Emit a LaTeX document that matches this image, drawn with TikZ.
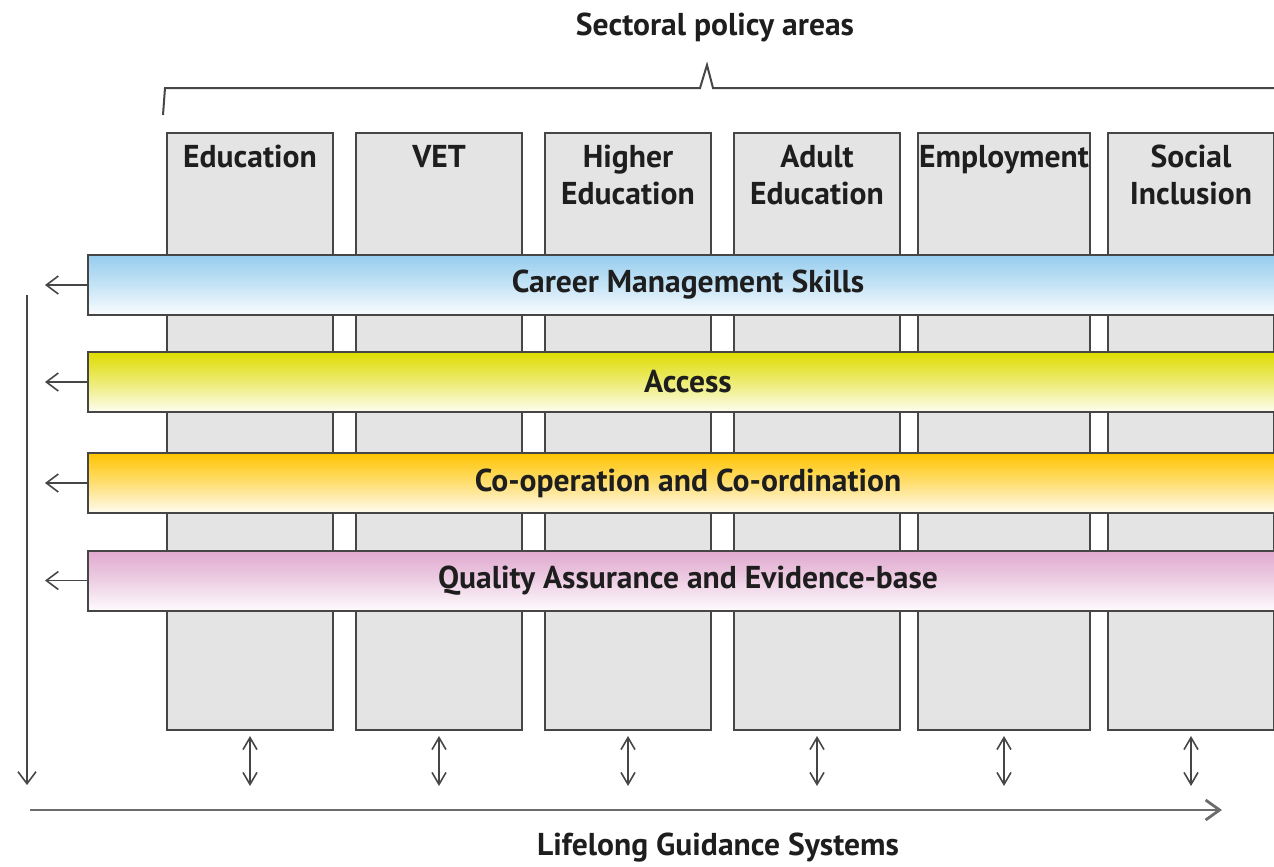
\documentclass[tikz,border=0pt]{standalone}
\usepackage{fontspec}
\setmainfont{PT Sans}
\usetikzlibrary{positioning, arrows.meta}
\definecolor{colgray}{RGB}{228,228,228}
\definecolor{edgegray}{RGB}{70,70,70}
\definecolor{txtdark}{RGB}{30,30,30}
\definecolor{cmsblue}{RGB}{150,205,238}
\definecolor{accyellow}{RGB}{222,220,0}
\definecolor{coporange}{RGB}{255,196,0}
\definecolor{qapink}{RGB}{224,168,206}

\begin{document}
\begin{tikzpicture}[x=0.5pt,y=-0.5pt,node distance=94.5pt,on grid,
  font=\bfseries\fontsize{15.8}{18.5}\selectfont,text=txtdark,
  sector/.style={draw=edgegray,line width=1pt,fill=colgray,minimum width=83pt,minimum height=298.5pt,inner sep=0pt},
  head/.style={anchor=north,align=center,inner sep=0pt,yshift=-6.5pt},
  band/.style={draw=edgegray,line width=1pt,minimum width=600pt,minimum height=30pt,anchor=west,
    top color=#1,bottom color=#1!5,middle color=#1!55},
  tip/.style={-{Straight Barb[length=6pt,width=9pt]},draw=edgegray,line width=0.8pt},
  dbl/.style={{Straight Barb[length=6pt,width=7pt]}-{Straight Barb[length=6pt,width=7pt]},draw=edgegray,line width=0.8pt},
  axis/.style={-{Straight Barb[length=7pt,width=10pt]},draw=gray!85!black,line width=1.4pt}]
 \useasboundingbox (0,0) rectangle (1274,867);
 \clip (0,0) rectangle (1274,867);

 % policy areas
 \node[sector] (edu) at (250,431.5) {};
 \node[sector] (vet) [right=of edu] {};
 \node[sector] (higher) [right=of vet] {};
 \node[sector] (adult) [right=of higher] {};
 \node[sector,minimum width=86pt] (employ) [right=of adult,xshift=-1pt] {};
 \node[sector] (social) [right=of employ,xshift=-1pt] {};
 \node[head] at (edu.north) {Education};
 \node[head] at (vet.north) {VET};
 \node[head] at (higher.north) {Higher\\Education};
 \node[head] at (adult.north) {Adult\\Education};
 \node[head] at (employ.north) {Employment};
 \node[head] at (social.north) {Social\\Inclusion};

 % brace and title
 \draw[edgegray,line width=1pt] (163,115) -- (165,88) -- (700,88) -- (707,65) -- (713,88) -- (1290,88);
 \node (sectoral) at (715,27) {Sectoral policy areas};

 % themes
 \node[band=cmsblue] (cms) at (87,285) {Career Management Skills};
 \node[band=accyellow] (acc) at (87,382) {Access};
 \node[band=coporange] (coop) at (87,483) {Co-operation and Co-ordination};
 \node[band=qapink] (qa) at (87,580.5) {Quality Assurance and Evidence-base};
 \foreach \b in {cms,acc,coop,qa}{
   \coordinate (\b-out) at ([xshift=-21pt]\b.west);
   \draw[tip] (\b.west) -- (\b-out);
 }

 % links to the systems
 \foreach \s in {edu,vet,higher,adult,employ,social}{
   \coordinate (\s-top) at ([yshift=-2.5pt]\s.south);
   \coordinate (\s-bot) at ([yshift=-27.5pt]\s.south);
   \draw[dbl] (\s-top) -- (\s-bot);
 }

 \coordinate (polstart) at (27,295);
 \coordinate (polend) at (27,785);
 \draw[tip] (polstart) -- (polend);
 \coordinate (sysstart) at (30,810);
 \coordinate (sysend) at (1222,810);
 \draw[axis] (sysstart) -- (sysend);
 \node (lgs) at (718,848) {Lifelong Guidance Systems};
\end{tikzpicture}
\end{document}
